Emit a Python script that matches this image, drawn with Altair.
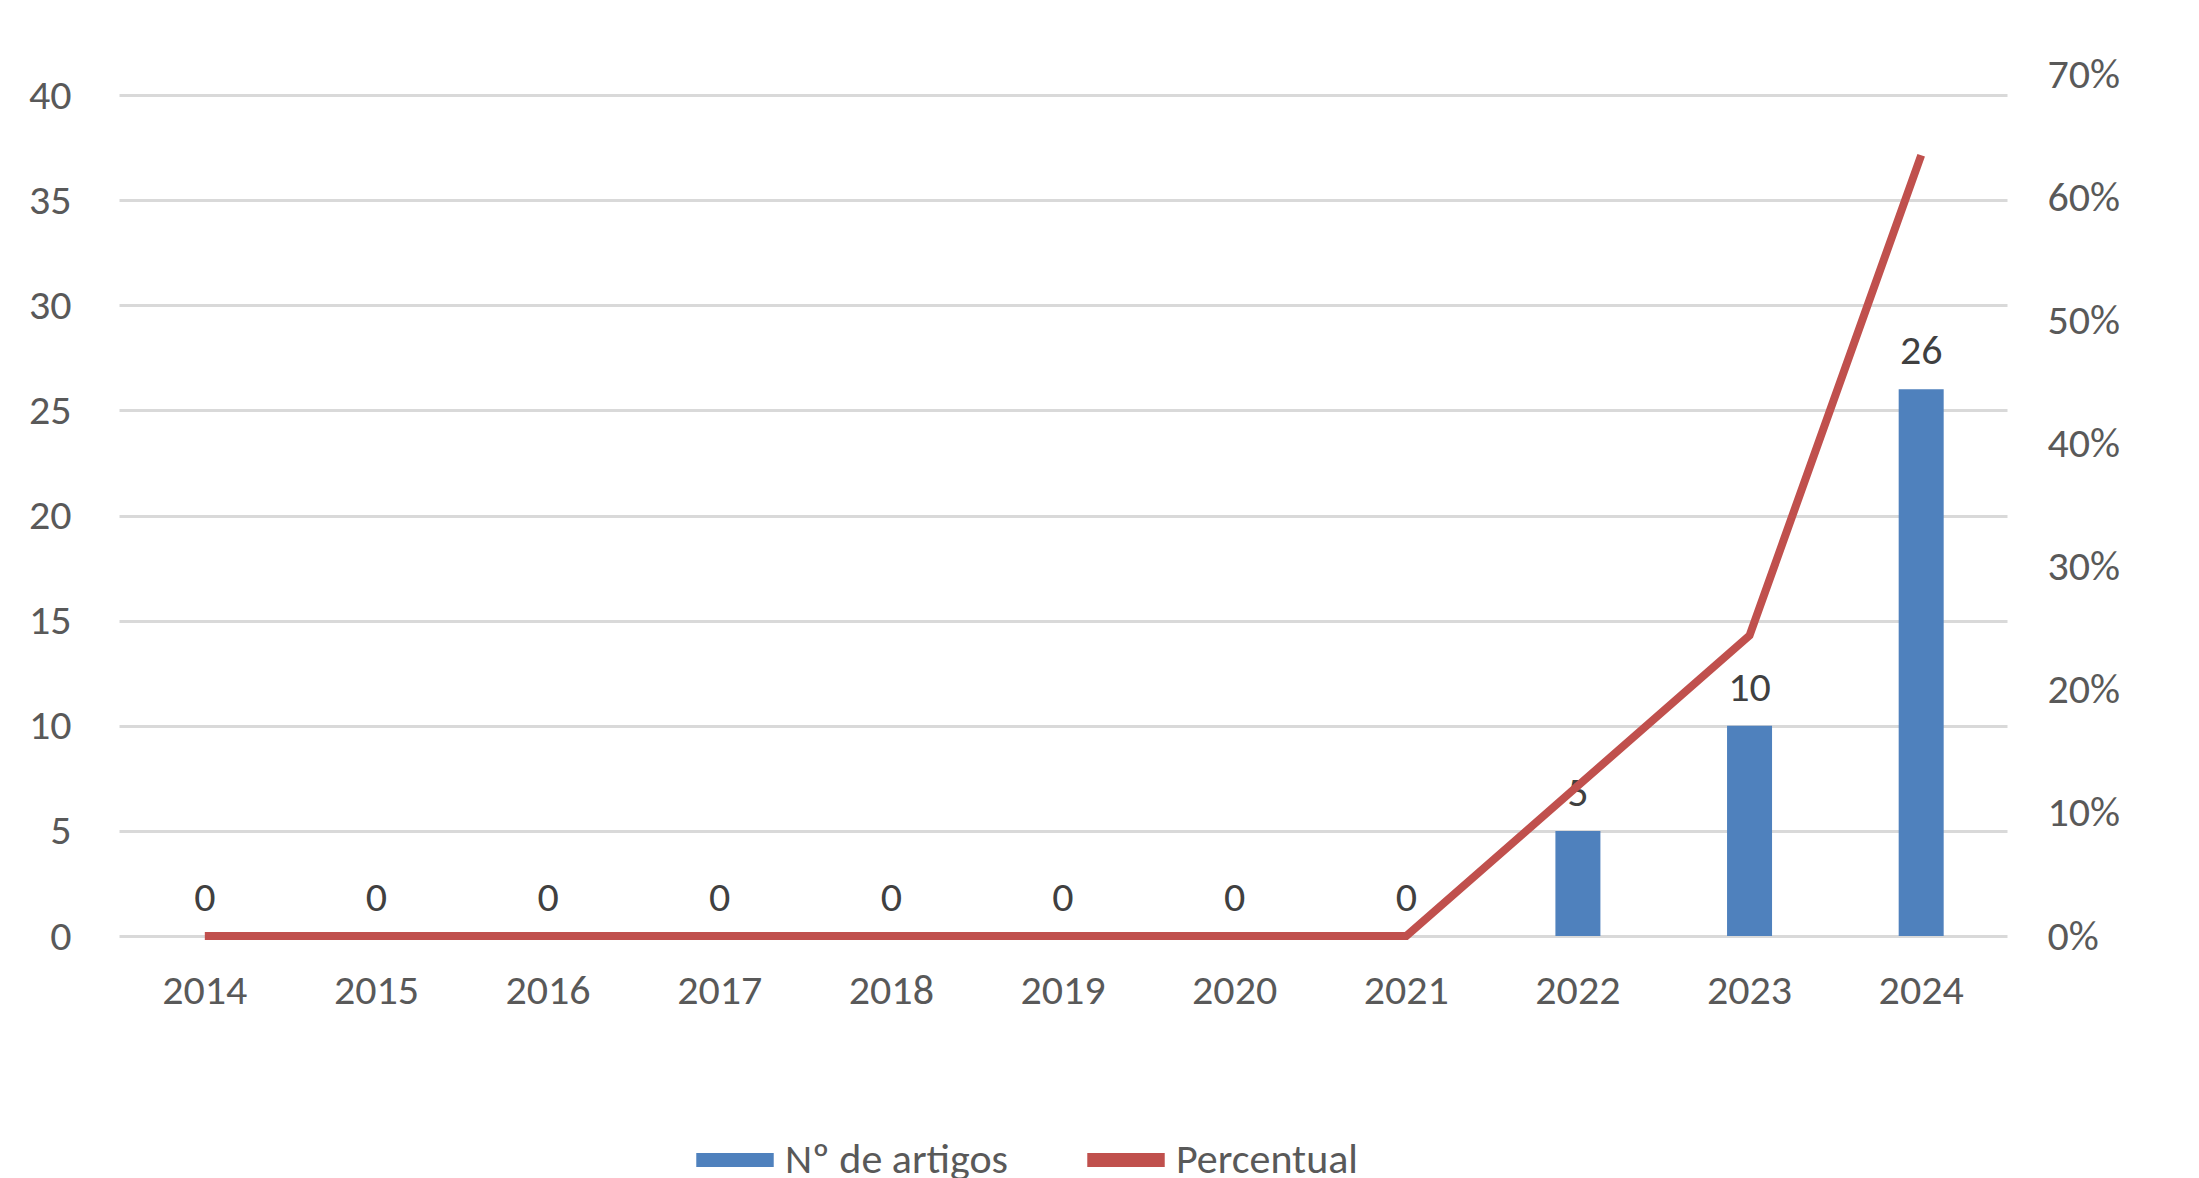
import altair as alt
import pandas as pd

years = ["2014","2015","2016","2017","2018","2019","2020","2021","2022","2023","2024"]
artigos = [0,0,0,0,0,0,0,0,5,10,26]
percentual = [0,0,0,0,0,0,0,0,0.122,0.244,0.634]

df = pd.DataFrame({"ano": years, "n": artigos, "p": percentual,
                   "s1": "Nº de artigos", "s2": "Percentual"})

FS = 42
color = alt.Scale(domain=["Nº de artigos", "Percentual"], range=["#4f81bd", "#c0504d"])
x = alt.X("ano:N", title=None, sort=years,
          scale=alt.Scale(paddingInner=0.74, paddingOuter=0.37),
          axis=alt.Axis(labelAngle=0, labelFontSize=FS, labelColor="#595959",
                        domain=False, ticks=False, labelPadding=34))

bars = alt.Chart(df).mark_bar(size=45).encode(
    x=x,
    y=alt.Y("n:Q", title=None, scale=alt.Scale(domain=[0, 41], nice=False),
            axis=alt.Axis(values=[0,5,10,15,20,25,30,35,40], labelFontSize=FS,
                          labelColor="#595959", domain=False, ticks=False,
                          gridColor="#d9d9d9", gridWidth=3, labelPadding=48)),
    color=alt.Color("s1:N", scale=color, title=None,
                    legend=alt.Legend(orient="none", legendX=570, legendY=1040,
                                      direction="horizontal",
                                      labelFontSize=FS, labelColor="#595959",
                                      symbolType="stroke", symbolStrokeWidth=14, symbolSize=6000,
                                      columnPadding=50, labelLimit=500)),
)
labels = alt.Chart(df).mark_text(dy=-38, fontSize=FS, color="#404040").encode(
    x=x, y=alt.Y("n:Q", scale=alt.Scale(domain=[0, 41], nice=False)), text="n:Q")

line = alt.Chart(df).mark_line(strokeWidth=8).encode(
    x=x,
    y=alt.Y("p:Q", title=None, scale=alt.Scale(domain=[0, 0.7], nice=False),
            axis=alt.Axis(orient="right", format=".0%", values=[0,.1,.2,.3,.4,.5,.6,.7],
                          labelFontSize=FS, labelColor="#595959", domain=False, ticks=False,
                          grid=False, labelPadding=40)),
    color=alt.Color("s2:N", scale=color, title=None),
)

chart = alt.layer(alt.layer(bars, labels), line).resolve_scale(y="independent").properties(
    width=1888, height=862, background="white",
    padding={"left": 20, "top": 45, "right": 30, "bottom": 20},
).configure(font="Calibri, Carlito, Liberation Sans, sans-serif").configure_view(stroke=None)

chart.save("out.html", embed_options={"renderer": "svg", "actions": False})
